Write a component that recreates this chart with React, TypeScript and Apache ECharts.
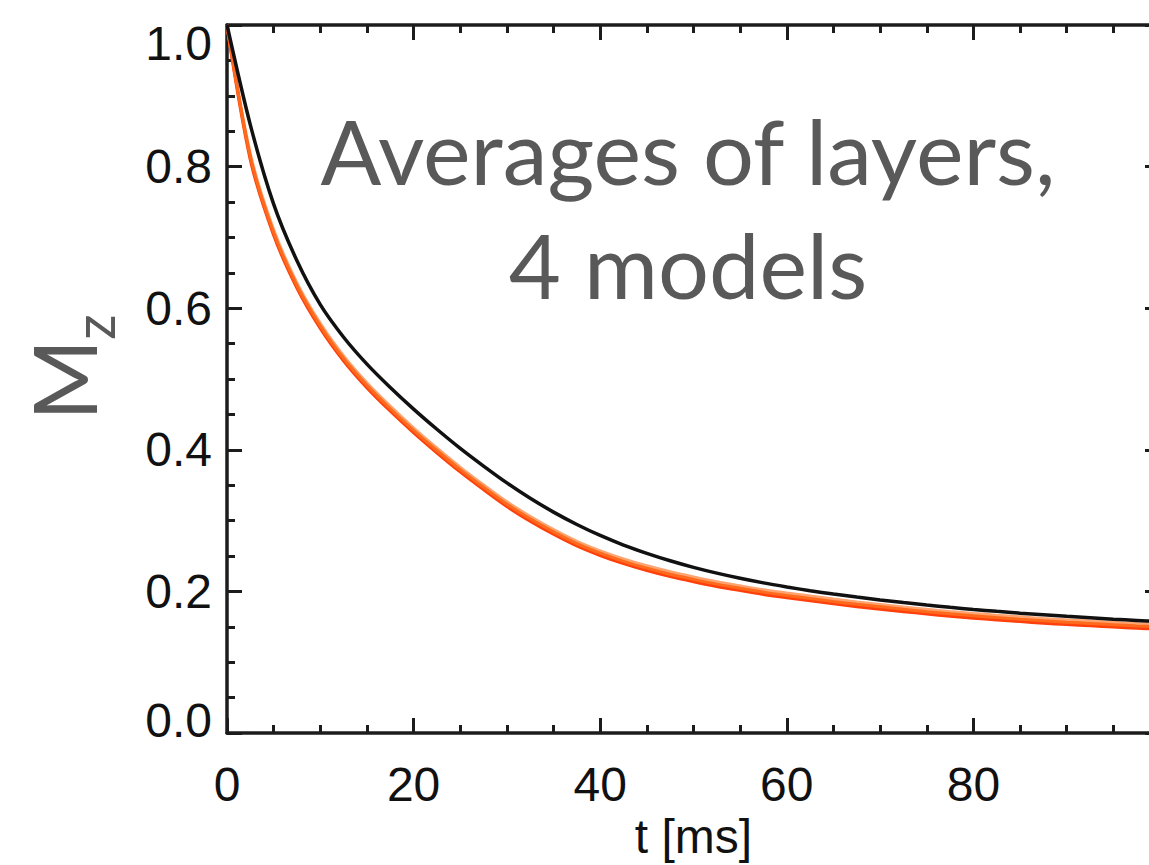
import React, { useEffect, useRef } from "react";
import * as echarts from "echarts";

// time axis [ms]
const T = [0, 2.5, 5, 7.5, 10, 12.5, 15, 17.5, 20, 22.5, 25, 27.5, 30, 32.5, 35, 37.5, 40, 42.5, 45, 47.5, 50, 52.5, 55, 57.5, 60, 62.5, 65, 67.5, 70, 72.5, 75, 77.5, 80, 82.5, 85, 87.5, 90, 92.5, 95, 97.5, 100];

// model 1 (black)
const MZ_BLACK = [1.0, 0.859, 0.747, 0.667, 0.605, 0.559, 0.521, 0.488, 0.4575, 0.429, 0.402, 0.377, 0.3532, 0.3315, 0.312, 0.2945, 0.279, 0.2655, 0.2538, 0.2433, 0.234, 0.2258, 0.2185, 0.212, 0.2063, 0.201, 0.1963, 0.192, 0.188, 0.1843, 0.1808, 0.1775, 0.1745, 0.1718, 0.1693, 0.167, 0.1648, 0.1628, 0.1608, 0.159, 0.1573];
// models 2-4 (orange family, nearly overlapping)
const MZ_ORANGE = [1.0, 0.814, 0.707, 0.632, 0.575, 0.529, 0.491, 0.458, 0.4275, 0.399, 0.372, 0.347, 0.3232, 0.3025, 0.284, 0.2675, 0.254, 0.2425, 0.2328, 0.2243, 0.217, 0.2103, 0.2045, 0.199, 0.1943, 0.19, 0.1858, 0.1818, 0.1782, 0.1747, 0.1714, 0.1683, 0.1655, 0.163, 0.1607, 0.1585, 0.1565, 0.1547, 0.153, 0.1513, 0.1498];
const MZ_RED = [1.0, 0.811, 0.704, 0.629, 0.572, 0.526, 0.488, 0.455, 0.4245, 0.396, 0.369, 0.344, 0.3202, 0.2995, 0.281, 0.2645, 0.251, 0.2395, 0.2298, 0.2213, 0.214, 0.2073, 0.2015, 0.196, 0.1913, 0.187, 0.1828, 0.1788, 0.1752, 0.1717, 0.1684, 0.1653, 0.1625, 0.16, 0.1577, 0.1555, 0.1535, 0.1517, 0.15, 0.1483, 0.1468];
const MZ_LIGHT = [1.0, 0.817, 0.71, 0.635, 0.578, 0.532, 0.494, 0.461, 0.4305, 0.402, 0.375, 0.35, 0.3262, 0.3055, 0.287, 0.2705, 0.257, 0.2455, 0.2358, 0.2273, 0.22, 0.2133, 0.2075, 0.202, 0.1973, 0.193, 0.1888, 0.1848, 0.1812, 0.1777, 0.1744, 0.1713, 0.1685, 0.166, 0.1637, 0.1615, 0.1595, 0.1577, 0.156, 0.1543, 0.1528];

const X_MIN = 0;
const X_MAX = 100;
const X_STEP = 20;
const Y_MIN = 0;
const Y_MAX = 1;
const Y_STEP = 0.2;

const TITLE_LINES = ["Averages of layers,", "4 models"];
const X_NAME = "t [ms]";

const AXIS_COLOR = "#1c1c1c";
const TICK_FONT = "'Liberation Sans', Arial, Helvetica, sans-serif";
const SLIDE_FONT = "Lato, 'Open Sans', sans-serif";

const pair = (ys: number[]) => T.map((t, i) => [t, ys[i]]);

export default function App() {
  const ref = useRef<HTMLDivElement>(null);

  useEffect(() => {
    if (!ref.current) return;
    const chart = echarts.init(ref.current, null, { renderer: "svg" });

    const axisLine = { show: true, onZero: false, lineStyle: { color: AXIS_COLOR, width: 3.5 } };
    const axisTick = { show: true, inside: true, length: 15, lineStyle: { color: AXIS_COLOR, width: 3 } };
    const minorTick = { show: true, splitNumber: 4, length: 8, lineStyle: { color: AXIS_COLOR, width: 3 } };

    const xBase = {
      type: "value",
      min: X_MIN,
      max: X_MAX,
      interval: X_STEP,
      axisLine,
      axisTick,
      minorTick,
      splitLine: { show: false },
      minorSplitLine: { show: false },
    };
    const yBase = {
      type: "value",
      min: Y_MIN,
      max: Y_MAX,
      interval: Y_STEP,
      axisLine,
      axisTick,
      minorTick,
      splitLine: { show: false },
      minorSplitLine: { show: false },
    };

    const line = (name: string, data: number[], color: string, width: number) => ({
      type: "line",
      name,
      data: pair(data),
      showSymbol: false,
      symbol: "none",
      smooth: 0.3,
      lineStyle: { color, width },
      z: 3,
    });

    chart.setOption({
      animation: false,
      backgroundColor: "#ffffff",
      grid: { left: 227, top: 25, right: -11, bottom: 132, outerBoundsMode: "none", containLabel: false },
      xAxis: [
        {
          ...xBase,
          position: "bottom",
          axisLabel: {
            show: true,
            margin: 27,
            fontSize: 48,
            fontFamily: TICK_FONT,
            color: "#111",
            showMaxLabel: false,
            formatter: (v: number) => String(v),
          },
          name: X_NAME,
          nameLocation: "middle",
          nameGap: 79,
          nameTextStyle: { fontSize: 48, fontFamily: TICK_FONT, color: "#111" },
        },
        { ...xBase, position: "top", axisLabel: { show: false } },
      ],
      yAxis: [
        {
          ...yBase,
          position: "left",
          axisLabel: {
            show: true,
            margin: 15,
            fontSize: 48,
            fontFamily: TICK_FONT,
            color: "#111",
            formatter: (v: number) => {
              const s = v.toFixed(1);
              if (v === Y_MAX) return "{hi|" + s + "}";
              if (v === Y_MIN) return "{lo|" + s + "}";
              return s;
            },
            rich: {
              hi: { fontSize: 48, fontFamily: TICK_FONT, color: "#111", padding: [36, 0, 0, 0] },
              lo: { fontSize: 48, fontFamily: TICK_FONT, color: "#111", padding: [0, 0, 25, 0] },
            },
          },
        },
        { ...yBase, position: "right", axisLabel: { show: false } },
      ],
      series: [
        line("model 4", MZ_LIGHT, "#ffa470", 3.5),
        line("model 3", MZ_RED, "#ff400c", 3.5),
        line("model 2", MZ_ORANGE, "#ff6a1c", 3),
        line("model 1", MZ_BLACK, "#111111", 3.5),
      ],
      graphic: [
        {
          type: "text",
          x: 688,
          y: 93,
          style: {
            text: TITLE_LINES.join("\n"),
            font: "90px " + SLIDE_FONT,
            fill: "#595959",
            align: "center",
            verticalAlign: "top",
            lineHeight: 114,
          },
          z: 10,
        },
        {
          type: "group",
          x: 63,
          y: 380,
          rotation: Math.PI / 2,
          children: [
            {
              type: "text",
              x: 0,
              y: 0,
              style: { text: "M", font: "88px " + SLIDE_FONT, fill: "#595959", align: "center", verticalAlign: "middle" },
            },
            {
              type: "text",
              x: 53,
              y: 30,
              style: { text: "z", font: "56px " + SLIDE_FONT, fill: "#595959", align: "center", verticalAlign: "middle" },
            },
          ],
        },
      ],
    });

    return () => chart.dispose();
  }, []);

  return (
    <div
      ref={ref}
      style={{ position: "absolute", left: 0, top: 0, width: 1149, height: 865, overflow: "hidden" }}
    />
  );
}
